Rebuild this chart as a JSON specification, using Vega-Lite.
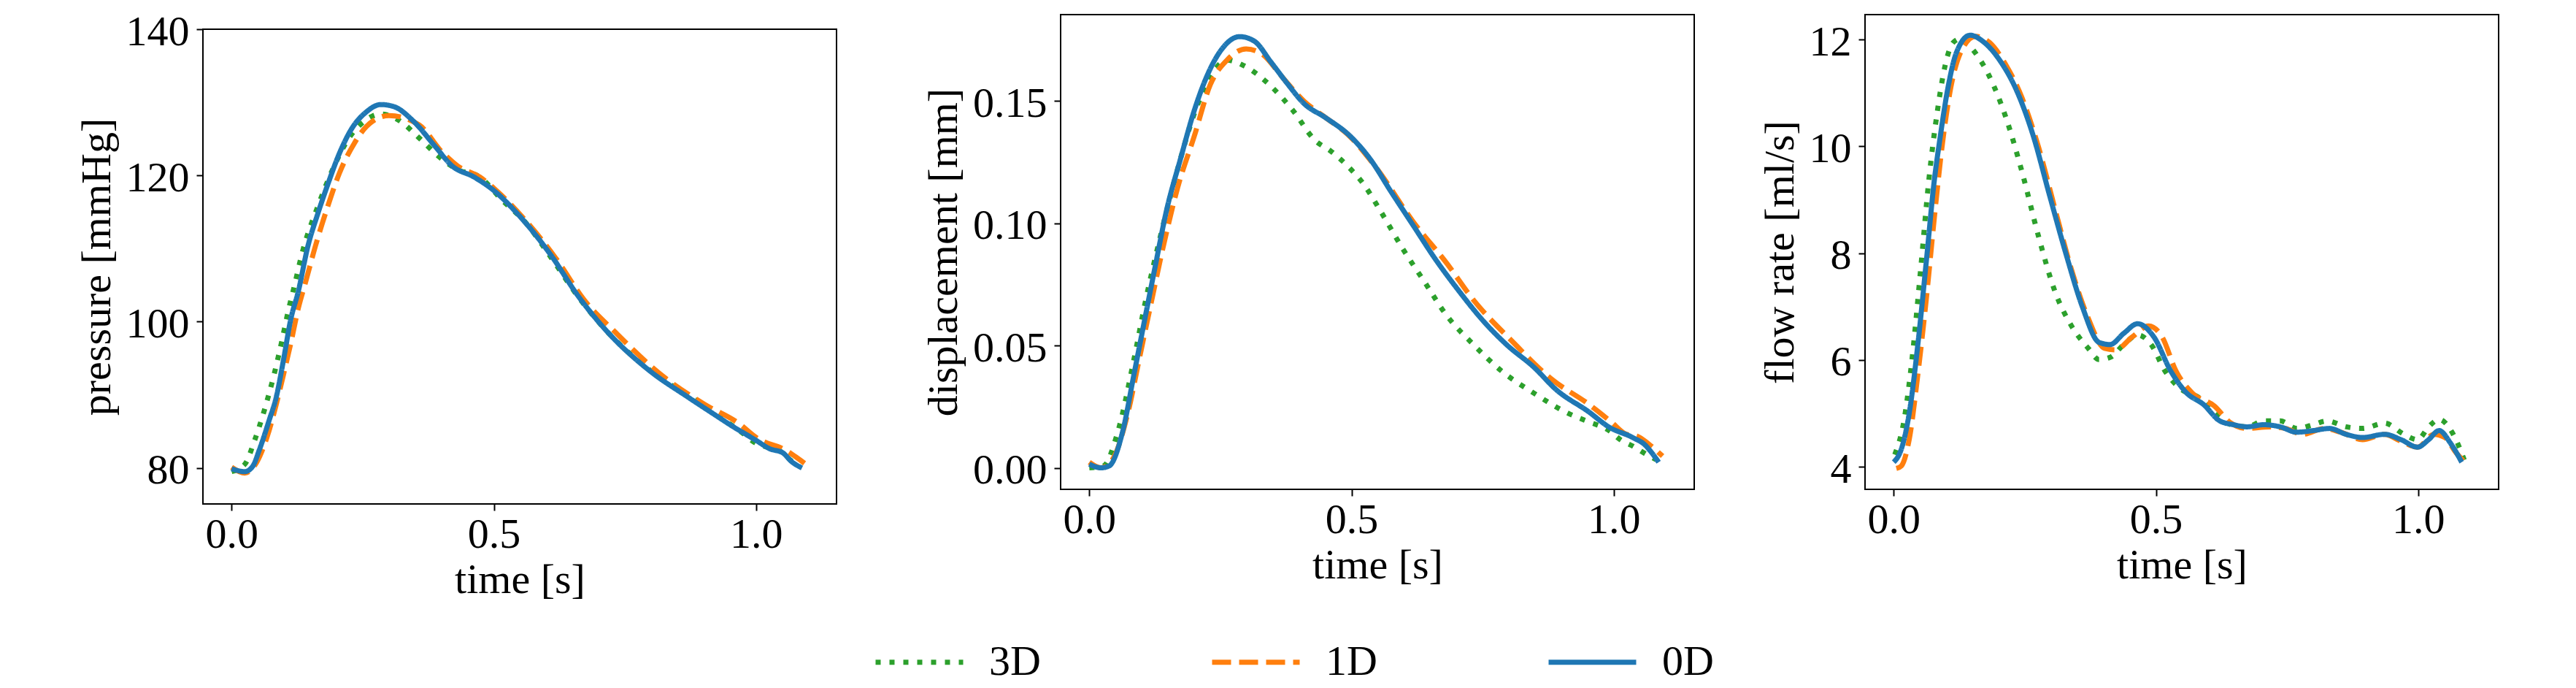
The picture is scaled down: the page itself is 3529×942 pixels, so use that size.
{
  "$schema": "https://vega.github.io/schema/vega-lite/v6.json",
  "background": "white",
  "padding": {"left": 103, "top": 14, "right": 0, "bottom": 0},
  "autosize": {"type": "pad"},
  "config": {
    "font": "Liberation Serif",
    "view": {"stroke": "black", "strokeWidth": 2},
    "axis": {
      "grid": false, "domain": false,
      "labelFontSize": 58, "titleFontSize": 58, "titleFontWeight": "normal",
      "labelColor": "black", "titleColor": "black",
      "tickColor": "black", "tickSize": 9, "tickWidth": 2,
      "labelPadding": 10, "titlePadding": 10
    },
    "axisX": {"labelPadding": 4, "titlePadding": 4},
    "axisY": {"labelOffset": 4},
    "line": {"strokeWidth": 7, "interpolate": "monotone"},
    "legend": {
      "symbolType": "stroke", "symbolSize": 14400, "symbolStrokeWidth": 7,
      "labelFontSize": 58, "labelColor": "black", "labelOffset": 32,
      "columnPadding": 220, "padding": 0
    }
  },
  "datasets": {
    "pressure": [
      {"t": 0.0, "v": 79.5, "m": "3D"}, {"t": 0.025, "v": 80.5, "m": "3D"}, {"t": 0.044, "v": 83.8, "m": "3D"},
      {"t": 0.062, "v": 87.8, "m": "3D"}, {"t": 0.081, "v": 92.8, "m": "3D"}, {"t": 0.095, "v": 97.1, "m": "3D"},
      {"t": 0.109, "v": 101.8, "m": "3D"}, {"t": 0.118, "v": 104.4, "m": "3D"}, {"t": 0.136, "v": 109.8, "m": "3D"},
      {"t": 0.164, "v": 115.7, "m": "3D"}, {"t": 0.192, "v": 120.7, "m": "3D"}, {"t": 0.22, "v": 124.7, "m": "3D"},
      {"t": 0.2525, "v": 127.4, "m": "3D"}, {"t": 0.285, "v": 128.4, "m": "3D"}, {"t": 0.32, "v": 127.5, "m": "3D"},
      {"t": 0.358, "v": 125.1, "m": "3D"}, {"t": 0.4, "v": 122.3, "m": "3D"}, {"t": 0.431, "v": 120.8, "m": "3D"},
      {"t": 0.473, "v": 119.8, "m": "3D"}, {"t": 0.515, "v": 116.7, "m": "3D"}, {"t": 0.56, "v": 113.6, "m": "3D"},
      {"t": 0.609, "v": 108.8, "m": "3D"}, {"t": 0.661, "v": 103.4, "m": "3D"}, {"t": 0.713, "v": 98.9, "m": "3D"},
      {"t": 0.808, "v": 92.8, "m": "3D"}, {"t": 0.891, "v": 89.0, "m": "3D"}, {"t": 0.93, "v": 87.0, "m": "3D"},
      {"t": 0.974, "v": 84.8, "m": "3D"}, {"t": 0.995, "v": 83.6, "m": "3D"}, {"t": 1.023, "v": 82.8, "m": "3D"},
      {"t": 1.046, "v": 82.3, "m": "3D"}, {"t": 1.067, "v": 81.0, "m": "3D"}, {"t": 1.083, "v": 80.2, "m": "3D"},

      {"t": 0.0, "v": 80.1, "m": "1D"}, {"t": 0.025, "v": 79.3, "m": "1D"}, {"t": 0.048, "v": 80.8, "m": "1D"},
      {"t": 0.067, "v": 84.1, "m": "1D"}, {"t": 0.0855, "v": 88.8, "m": "1D"}, {"t": 0.099, "v": 92.8, "m": "1D"},
      {"t": 0.113, "v": 97.1, "m": "1D"}, {"t": 0.127, "v": 101.8, "m": "1D"}, {"t": 0.141, "v": 105.4, "m": "1D"},
      {"t": 0.16, "v": 110.4, "m": "1D"}, {"t": 0.183, "v": 115.7, "m": "1D"}, {"t": 0.206, "v": 120.4, "m": "1D"},
      {"t": 0.234, "v": 124.4, "m": "1D"}, {"t": 0.257, "v": 126.7, "m": "1D"}, {"t": 0.3, "v": 128.2, "m": "1D"},
      {"t": 0.358, "v": 126.9, "m": "1D"}, {"t": 0.4, "v": 123.3, "m": "1D"}, {"t": 0.431, "v": 121.3, "m": "1D"},
      {"t": 0.473, "v": 119.8, "m": "1D"}, {"t": 0.504, "v": 118.0, "m": "1D"}, {"t": 0.556, "v": 114.2, "m": "1D"},
      {"t": 0.619, "v": 108.6, "m": "1D"}, {"t": 0.672, "v": 103.0, "m": "1D"}, {"t": 0.734, "v": 98.4, "m": "1D"},
      {"t": 0.818, "v": 92.8, "m": "1D"}, {"t": 0.902, "v": 88.7, "m": "1D"}, {"t": 0.967, "v": 86.1, "m": "1D"},
      {"t": 1.004, "v": 84.0, "m": "1D"}, {"t": 1.018, "v": 83.5, "m": "1D"}, {"t": 1.046, "v": 82.8, "m": "1D"},
      {"t": 1.064, "v": 82.1, "m": "1D"}, {"t": 1.076, "v": 81.5, "m": "1D"}, {"t": 1.095, "v": 80.5, "m": "1D"},

      {"t": 0.0, "v": 79.9, "m": "0D"}, {"t": 0.025, "v": 79.5, "m": "0D"}, {"t": 0.04, "v": 80.2, "m": "0D"},
      {"t": 0.053, "v": 82.5, "m": "0D"}, {"t": 0.0715, "v": 86.5, "m": "0D"}, {"t": 0.0855, "v": 89.8, "m": "0D"},
      {"t": 0.099, "v": 94.8, "m": "0D"}, {"t": 0.113, "v": 100.4, "m": "0D"}, {"t": 0.127, "v": 104.1, "m": "0D"},
      {"t": 0.1457, "v": 110.4, "m": "0D"}, {"t": 0.164, "v": 114.7, "m": "0D"}, {"t": 0.183, "v": 118.7, "m": "0D"},
      {"t": 0.206, "v": 123.1, "m": "0D"}, {"t": 0.229, "v": 126.4, "m": "0D"}, {"t": 0.257, "v": 128.7, "m": "0D"},
      {"t": 0.2845, "v": 129.7, "m": "0D"}, {"t": 0.31, "v": 129.4, "m": "0D"}, {"t": 0.347, "v": 127.4, "m": "0D"},
      {"t": 0.389, "v": 123.9, "m": "0D"}, {"t": 0.4205, "v": 121.3, "m": "0D"}, {"t": 0.462, "v": 119.8, "m": "0D"},
      {"t": 0.499, "v": 118.0, "m": "0D"}, {"t": 0.546, "v": 114.7, "m": "0D"}, {"t": 0.609, "v": 109.1, "m": "0D"},
      {"t": 0.661, "v": 103.5, "m": "0D"}, {"t": 0.713, "v": 98.9, "m": "0D"}, {"t": 0.797, "v": 93.3, "m": "0D"},
      {"t": 0.87, "v": 89.7, "m": "0D"}, {"t": 0.923, "v": 87.2, "m": "0D"}, {"t": 0.953, "v": 85.8, "m": "0D"},
      {"t": 0.9995, "v": 83.8, "m": "0D"}, {"t": 1.027, "v": 82.6, "m": "0D"}, {"t": 1.0505, "v": 82.1, "m": "0D"},
      {"t": 1.069, "v": 80.8, "m": "0D"}, {"t": 1.0877, "v": 80.0, "m": "0D"}
    ],
    "displacement": [
      {"t": 0.0, "v": 0.0, "m": "3D"}, {"t": 0.027, "v": 0.0008, "m": "3D"}, {"t": 0.053, "v": 0.0137, "m": "3D"},
      {"t": 0.085, "v": 0.0442, "m": "3D"}, {"t": 0.106, "v": 0.067, "m": "3D"}, {"t": 0.137, "v": 0.0959, "m": "3D"},
      {"t": 0.168, "v": 0.1218, "m": "3D"}, {"t": 0.2, "v": 0.1447, "m": "3D"}, {"t": 0.231, "v": 0.16, "m": "3D"},
      {"t": 0.2625, "v": 0.1667, "m": "3D"}, {"t": 0.294, "v": 0.1645, "m": "3D"}, {"t": 0.346, "v": 0.1561, "m": "3D"},
      {"t": 0.388, "v": 0.1462, "m": "3D"}, {"t": 0.43, "v": 0.134, "m": "3D"}, {"t": 0.461, "v": 0.1294, "m": "3D"},
      {"t": 0.493, "v": 0.1233, "m": "3D"}, {"t": 0.524, "v": 0.1157, "m": "3D"}, {"t": 0.555, "v": 0.1051, "m": "3D"},
      {"t": 0.597, "v": 0.0898, "m": "3D"}, {"t": 0.639, "v": 0.0761, "m": "3D"}, {"t": 0.681, "v": 0.0624, "m": "3D"},
      {"t": 0.733, "v": 0.0503, "m": "3D"}, {"t": 0.786, "v": 0.0396, "m": "3D"}, {"t": 0.848, "v": 0.0305, "m": "3D"},
      {"t": 0.911, "v": 0.0225, "m": "3D"}, {"t": 0.95, "v": 0.019, "m": "3D"}, {"t": 0.9907, "v": 0.0153, "m": "3D"},
      {"t": 1.014, "v": 0.0113, "m": "3D"}, {"t": 1.037, "v": 0.0088, "m": "3D"}, {"t": 1.06, "v": 0.0058, "m": "3D"},
      {"t": 1.081, "v": 0.0033, "m": "3D"},

      {"t": 0.0, "v": 0.0023, "m": "1D"}, {"t": 0.022, "v": 0.0, "m": "1D"}, {"t": 0.043, "v": 0.003, "m": "1D"},
      {"t": 0.074, "v": 0.0228, "m": "1D"}, {"t": 0.095, "v": 0.0442, "m": "1D"}, {"t": 0.116, "v": 0.0655, "m": "1D"},
      {"t": 0.142, "v": 0.0914, "m": "1D"}, {"t": 0.168, "v": 0.1142, "m": "1D"}, {"t": 0.2, "v": 0.1355, "m": "1D"},
      {"t": 0.231, "v": 0.1568, "m": "1D"}, {"t": 0.2625, "v": 0.1667, "m": "1D"}, {"t": 0.299, "v": 0.1713, "m": "1D"},
      {"t": 0.3305, "v": 0.169, "m": "1D"}, {"t": 0.367, "v": 0.16, "m": "1D"}, {"t": 0.409, "v": 0.15, "m": "1D"},
      {"t": 0.451, "v": 0.1431, "m": "1D"}, {"t": 0.493, "v": 0.1363, "m": "1D"}, {"t": 0.545, "v": 0.1233, "m": "1D"},
      {"t": 0.618, "v": 0.1005, "m": "1D"}, {"t": 0.681, "v": 0.0838, "m": "1D"}, {"t": 0.733, "v": 0.0685, "m": "1D"},
      {"t": 0.806, "v": 0.0518, "m": "1D"}, {"t": 0.88, "v": 0.0365, "m": "1D"}, {"t": 0.953, "v": 0.0259, "m": "1D"},
      {"t": 0.995, "v": 0.0188, "m": "1D"}, {"t": 1.023, "v": 0.0138, "m": "1D"}, {"t": 1.046, "v": 0.0128, "m": "1D"},
      {"t": 1.072, "v": 0.0088, "m": "1D"}, {"t": 1.093, "v": 0.0048, "m": "1D"},

      {"t": 0.0, "v": 0.0015, "m": "0D"}, {"t": 0.022, "v": 0.0, "m": "0D"}, {"t": 0.038, "v": 0.0008, "m": "0D"},
      {"t": 0.064, "v": 0.0152, "m": "0D"}, {"t": 0.085, "v": 0.038, "m": "0D"}, {"t": 0.106, "v": 0.061, "m": "0D"},
      {"t": 0.127, "v": 0.0838, "m": "0D"}, {"t": 0.147, "v": 0.105, "m": "0D"}, {"t": 0.174, "v": 0.1264, "m": "0D"},
      {"t": 0.2, "v": 0.146, "m": "0D"}, {"t": 0.226, "v": 0.161, "m": "0D"}, {"t": 0.252, "v": 0.171, "m": "0D"},
      {"t": 0.2866, "v": 0.1763, "m": "0D"}, {"t": 0.315, "v": 0.1744, "m": "0D"}, {"t": 0.346, "v": 0.166, "m": "0D"},
      {"t": 0.378, "v": 0.157, "m": "0D"}, {"t": 0.409, "v": 0.149, "m": "0D"}, {"t": 0.451, "v": 0.1431, "m": "0D"},
      {"t": 0.498, "v": 0.1355, "m": "0D"}, {"t": 0.535, "v": 0.1264, "m": "0D"}, {"t": 0.576, "v": 0.1127, "m": "0D"},
      {"t": 0.618, "v": 0.099, "m": "0D"}, {"t": 0.66, "v": 0.0853, "m": "0D"}, {"t": 0.702, "v": 0.0731, "m": "0D"},
      {"t": 0.754, "v": 0.0594, "m": "0D"}, {"t": 0.796, "v": 0.0503, "m": "0D"}, {"t": 0.848, "v": 0.0411, "m": "0D"},
      {"t": 0.89, "v": 0.032, "m": "0D"}, {"t": 0.953, "v": 0.0228, "m": "0D"}, {"t": 0.9907, "v": 0.0167, "m": "0D"},
      {"t": 1.037, "v": 0.0123, "m": "0D"}, {"t": 1.06, "v": 0.0093, "m": "0D"}, {"t": 1.072, "v": 0.0063, "m": "0D"},
      {"t": 1.0857, "v": 0.0023, "m": "0D"}
    ],
    "flow": [
      {"t": 0.002, "v": 4.23, "m": "3D"}, {"t": 0.02, "v": 4.89, "m": "3D"}, {"t": 0.0356, "v": 6.08, "m": "3D"},
      {"t": 0.0513, "v": 7.69, "m": "3D"}, {"t": 0.067, "v": 9.37, "m": "3D"}, {"t": 0.0827, "v": 10.62, "m": "3D"},
      {"t": 0.0984, "v": 11.53, "m": "3D"}, {"t": 0.114, "v": 11.95, "m": "3D"}, {"t": 0.13, "v": 12.02, "m": "3D"},
      {"t": 0.151, "v": 11.81, "m": "3D"}, {"t": 0.182, "v": 11.32, "m": "3D"}, {"t": 0.2136, "v": 10.55, "m": "3D"},
      {"t": 0.245, "v": 9.51, "m": "3D"}, {"t": 0.276, "v": 8.32, "m": "3D"}, {"t": 0.308, "v": 7.27, "m": "3D"},
      {"t": 0.339, "v": 6.64, "m": "3D"}, {"t": 0.371, "v": 6.22, "m": "3D"}, {"t": 0.3916, "v": 6.01, "m": "3D"},
      {"t": 0.4126, "v": 6.05, "m": "3D"}, {"t": 0.4387, "v": 6.29, "m": "3D"}, {"t": 0.465, "v": 6.47, "m": "3D"},
      {"t": 0.491, "v": 6.29, "m": "3D"}, {"t": 0.517, "v": 5.8, "m": "3D"}, {"t": 0.5487, "v": 5.45, "m": "3D"},
      {"t": 0.58, "v": 5.31, "m": "3D"}, {"t": 0.6115, "v": 5.03, "m": "3D"}, {"t": 0.643, "v": 4.79, "m": "3D"},
      {"t": 0.674, "v": 4.75, "m": "3D"}, {"t": 0.7058, "v": 4.86, "m": "3D"}, {"t": 0.737, "v": 4.86, "m": "3D"},
      {"t": 0.7686, "v": 4.72, "m": "3D"}, {"t": 0.8, "v": 4.79, "m": "3D"}, {"t": 0.826, "v": 4.86, "m": "3D"},
      {"t": 0.863, "v": 4.75, "m": "3D"}, {"t": 0.894, "v": 4.72, "m": "3D"}, {"t": 0.936, "v": 4.82, "m": "3D"},
      {"t": 0.973, "v": 4.61, "m": "3D"}, {"t": 0.999, "v": 4.51, "m": "3D"}, {"t": 1.02, "v": 4.75, "m": "3D"},
      {"t": 1.04, "v": 4.89, "m": "3D"}, {"t": 1.067, "v": 4.61, "m": "3D"}, {"t": 1.088, "v": 4.13, "m": "3D"},

      {"t": 0.005, "v": 3.97, "m": "1D"}, {"t": 0.0147, "v": 4.02, "m": "1D"}, {"t": 0.03, "v": 4.54, "m": "1D"},
      {"t": 0.046, "v": 5.73, "m": "1D"}, {"t": 0.062, "v": 7.13, "m": "1D"}, {"t": 0.0775, "v": 8.67, "m": "1D"},
      {"t": 0.093, "v": 10.06, "m": "1D"}, {"t": 0.109, "v": 11.11, "m": "1D"}, {"t": 0.13, "v": 11.81, "m": "1D"},
      {"t": 0.156, "v": 12.06, "m": "1D"}, {"t": 0.182, "v": 11.95, "m": "1D"}, {"t": 0.2136, "v": 11.53, "m": "1D"},
      {"t": 0.245, "v": 10.9, "m": "1D"}, {"t": 0.276, "v": 9.99, "m": "1D"}, {"t": 0.308, "v": 8.81, "m": "1D"},
      {"t": 0.339, "v": 7.69, "m": "1D"}, {"t": 0.371, "v": 6.78, "m": "1D"}, {"t": 0.402, "v": 6.22, "m": "1D"},
      {"t": 0.423, "v": 6.19, "m": "1D"}, {"t": 0.4545, "v": 6.43, "m": "1D"}, {"t": 0.486, "v": 6.64, "m": "1D"},
      {"t": 0.512, "v": 6.43, "m": "1D"}, {"t": 0.538, "v": 5.8, "m": "1D"}, {"t": 0.5696, "v": 5.38, "m": "1D"},
      {"t": 0.6115, "v": 5.14, "m": "1D"}, {"t": 0.643, "v": 4.82, "m": "1D"}, {"t": 0.674, "v": 4.72, "m": "1D"},
      {"t": 0.716, "v": 4.75, "m": "1D"}, {"t": 0.7476, "v": 4.72, "m": "1D"}, {"t": 0.779, "v": 4.61, "m": "1D"},
      {"t": 0.821, "v": 4.72, "m": "1D"}, {"t": 0.852, "v": 4.65, "m": "1D"}, {"t": 0.894, "v": 4.51, "m": "1D"},
      {"t": 0.936, "v": 4.61, "m": "1D"}, {"t": 0.9675, "v": 4.48, "m": "1D"}, {"t": 0.999, "v": 4.37, "m": "1D"},
      {"t": 1.03, "v": 4.61, "m": "1D"}, {"t": 1.051, "v": 4.55, "m": "1D"}, {"t": 1.072, "v": 4.27, "m": "1D"},
      {"t": 1.095, "v": 4.03, "m": "1D"},

      {"t": 0.0, "v": 4.09, "m": "0D"}, {"t": 0.0147, "v": 4.34, "m": "0D"}, {"t": 0.03, "v": 5.03, "m": "0D"},
      {"t": 0.046, "v": 6.29, "m": "0D"}, {"t": 0.062, "v": 7.83, "m": "0D"}, {"t": 0.0775, "v": 9.37, "m": "0D"},
      {"t": 0.088, "v": 10.13, "m": "0D"}, {"t": 0.1037, "v": 11.11, "m": "0D"}, {"t": 0.119, "v": 11.74, "m": "0D"},
      {"t": 0.1455, "v": 12.08, "m": "0D"}, {"t": 0.172, "v": 11.95, "m": "0D"}, {"t": 0.203, "v": 11.6, "m": "0D"},
      {"t": 0.2346, "v": 11.04, "m": "0D"}, {"t": 0.266, "v": 10.2, "m": "0D"}, {"t": 0.297, "v": 9.09, "m": "0D"},
      {"t": 0.329, "v": 7.97, "m": "0D"}, {"t": 0.36, "v": 6.99, "m": "0D"}, {"t": 0.3916, "v": 6.33, "m": "0D"},
      {"t": 0.4126, "v": 6.29, "m": "0D"}, {"t": 0.4387, "v": 6.5, "m": "0D"}, {"t": 0.465, "v": 6.68, "m": "0D"},
      {"t": 0.4963, "v": 6.43, "m": "0D"}, {"t": 0.528, "v": 5.8, "m": "0D"}, {"t": 0.559, "v": 5.38, "m": "0D"},
      {"t": 0.5906, "v": 5.17, "m": "0D"}, {"t": 0.622, "v": 4.86, "m": "0D"}, {"t": 0.648, "v": 4.79, "m": "0D"},
      {"t": 0.674, "v": 4.75, "m": "0D"}, {"t": 0.7058, "v": 4.79, "m": "0D"}, {"t": 0.737, "v": 4.75, "m": "0D"},
      {"t": 0.7686, "v": 4.65, "m": "0D"}, {"t": 0.8, "v": 4.68, "m": "0D"}, {"t": 0.831, "v": 4.72, "m": "0D"},
      {"t": 0.8628, "v": 4.61, "m": "0D"}, {"t": 0.894, "v": 4.55, "m": "0D"}, {"t": 0.936, "v": 4.61, "m": "0D"},
      {"t": 0.9675, "v": 4.51, "m": "0D"}, {"t": 0.999, "v": 4.37, "m": "0D"}, {"t": 1.02, "v": 4.51, "m": "0D"},
      {"t": 1.04, "v": 4.68, "m": "0D"}, {"t": 1.062, "v": 4.44, "m": "0D"}, {"t": 1.083, "v": 4.09, "m": "0D"}
    ]
  },
  "resolve": {"scale": {"x": "independent", "y": "independent"}},
  "spacing": 116,
  "hconcat": [
    {
      "bounds": "flush",
      "spacing": 19,
      "vconcat": [
        {
          "width": 868, "height": 1,
          "data": {"values": []},
          "mark": "point",
          "view": {"stroke": null}
        },
        {
          "width": 868, "height": 650,
          "data": {"name": "pressure"},
          "mark": "line",
          "encoding": {
            "x": {"field": "t", "type": "quantitative",
                  "scale": {"domain": [-0.0547, 1.1535], "nice": false, "zero": false},
                  "axis": {"values": [0, 0.5, 1], "format": ".1f", "title": "time [s]"}},
            "y": {"field": "v", "type": "quantitative",
                  "scale": {"domain": [75.08, 140], "nice": false, "zero": false},
                  "axis": {"values": [80, 100, 120, 140], "title": "pressure [mmHg]"}},
            "color": {"field": "m", "type": "nominal",
                      "scale": {"domain": ["3D", "1D", "0D"], "range": ["#2ca02c", "#ff7f0e", "#1f77b4"]},
                      "legend": {"title": null, "orient": "none", "legendX": 918, "legendY": 823, "direction": "horizontal", "columns": 3}},
            "strokeDash": {"field": "m", "type": "nominal",
                           "scale": {"domain": ["3D", "1D", "0D"], "range": [[7, 12], [26, 11], [1, 0]]},
                           "legend": {"title": null, "orient": "none", "legendX": 918, "legendY": 823, "direction": "horizontal", "columns": 3}}
          }
        }
      ]
    },
    {
      "resolve": {"scale": {"x": "independent", "y": "independent"}},
      "spacing": 87,
      "hconcat": [
        {
          "width": 868, "height": 650,
          "data": {"name": "displacement"},
          "mark": "line",
          "encoding": {
            "x": {"field": "t", "type": "quantitative",
                  "scale": {"domain": [-0.0547, 1.1535], "nice": false, "zero": false},
                  "axis": {"values": [0, 0.5, 1], "format": ".1f", "title": "time [s]"}},
            "y": {"field": "v", "type": "quantitative",
                  "scale": {"domain": [-0.0088, 0.1853], "nice": false, "zero": false},
                  "axis": {"values": [0, 0.05, 0.1, 0.15], "format": ".2f", "title": "displacement [mm]"}},
            "color": {"field": "m", "type": "nominal",
                      "scale": {"domain": ["3D", "1D", "0D"], "range": ["#2ca02c", "#ff7f0e", "#1f77b4"]},
                      "legend": {"title": null, "orient": "none", "legendX": 918, "legendY": 823, "direction": "horizontal", "columns": 3}},
            "strokeDash": {"field": "m", "type": "nominal",
                           "scale": {"domain": ["3D", "1D", "0D"], "range": [[7, 12], [26, 11], [1, 0]]},
                           "legend": {"title": null, "orient": "none", "legendX": 918, "legendY": 823, "direction": "horizontal", "columns": 3}}
          }
        },
        {
          "width": 868, "height": 650,
          "data": {"name": "flow"},
          "mark": "line",
          "encoding": {
            "x": {"field": "t", "type": "quantitative",
                  "scale": {"domain": [-0.0547, 1.1535], "nice": false, "zero": false},
                  "axis": {"values": [0, 0.5, 1], "format": ".1f", "title": "time [s]"}},
            "y": {"field": "v", "type": "quantitative",
                  "scale": {"domain": [3.58, 12.466], "nice": false, "zero": false},
                  "axis": {"values": [4, 6, 8, 10, 12], "title": "flow rate [ml/s]"}},
            "color": {"field": "m", "type": "nominal",
                      "scale": {"domain": ["3D", "1D", "0D"], "range": ["#2ca02c", "#ff7f0e", "#1f77b4"]},
                      "legend": {"title": null, "orient": "none", "legendX": 918, "legendY": 823, "direction": "horizontal", "columns": 3}},
            "strokeDash": {"field": "m", "type": "nominal",
                           "scale": {"domain": ["3D", "1D", "0D"], "range": [[7, 12], [26, 11], [1, 0]]},
                           "legend": {"title": null, "orient": "none", "legendX": 918, "legendY": 823, "direction": "horizontal", "columns": 3}}
          }
        }
      ]
    }
  ]
}
